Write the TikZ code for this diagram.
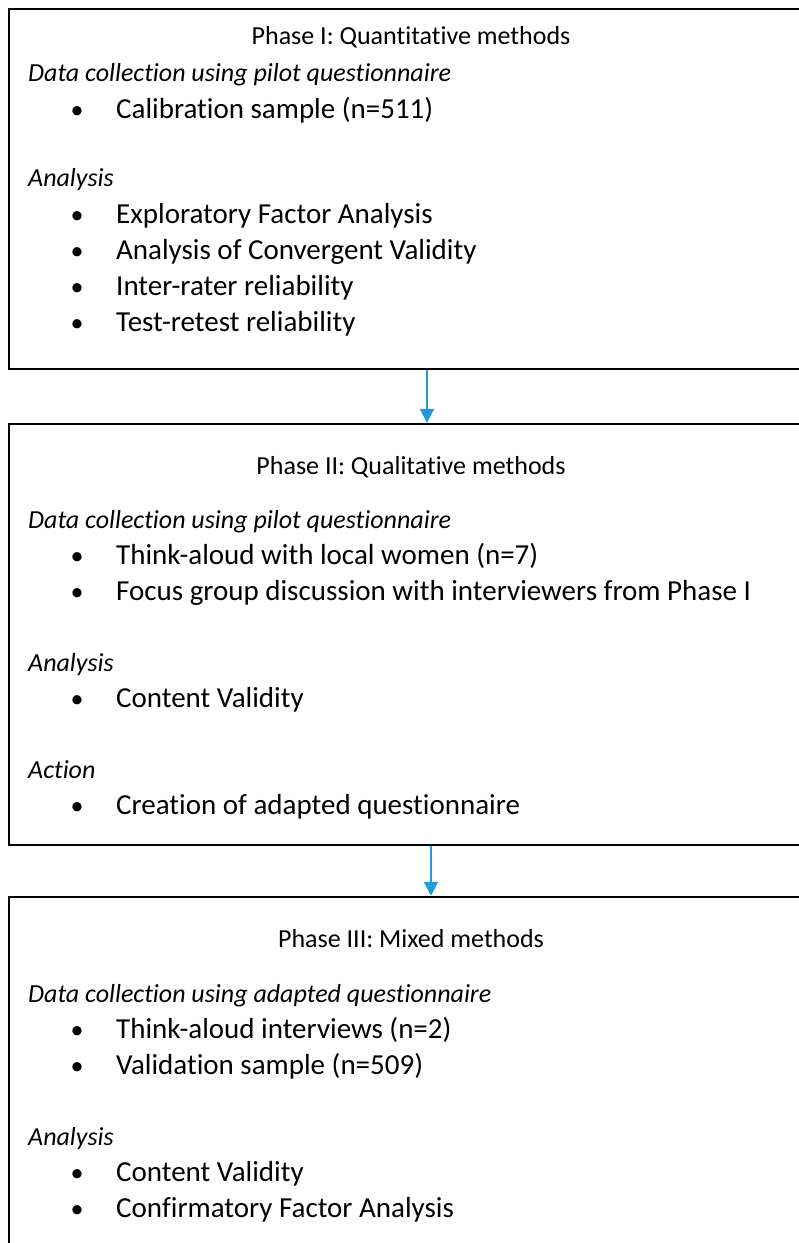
\documentclass[tikz,border=0pt]{standalone}
\usepackage{fontspec}
\setmainfont{Carlito}[Renderer=OpenType, Ligatures={NoCommon,NoRare}]
\usepackage{tikz}
\usetikzlibrary{arrows.meta}
\definecolor{flowBlue}{HTML}{1F9BD7}

\begin{document}
\begin{tikzpicture}[x=1pt, y=-1pt,
    phasebox/.style={draw, line width=2.5pt, rectangle, inner sep=0pt, minimum width=841pt},
    phasetitle/.style={anchor=base, inner sep=0pt, font=\fontsize{26}{30}\selectfont},
    subhead/.style={anchor=base west, inner sep=0pt, font=\fontsize{26}{30}\selectfont\itshape},
    itemtext/.style={anchor=base west, inner sep=0pt, font=\fontsize{29}{34}\selectfont},
    bulletdot/.style={anchor=base, inner sep=0pt, font=\fontsize{26}{30}\selectfont},
    flowarrow/.style={-{Triangle[length=14pt, width=14pt]}, flowBlue, line width=2.2pt}]
    \useasboundingbox (0,0) rectangle (799,1243);
    \begin{scope}
    \clip (0,0) rectangle (799,1243);
    % the three phase boxes
    \node[phasebox, minimum height=360pt] (phase1) at (429.5,189) {};
    \node[phasebox, minimum height=421pt] (phase2) at (429.5,634.5) {};
    \node[phasebox, minimum height=373pt] (phase3) at (429.5,1083.5) {};
    \end{scope}

    % Phase I
    \node[phasetitle] (title1) at (411,44) {Phase I: Quantitative methods};
    \node[subhead] (data1) at (28,81) {Data collection using pilot questionnaire};
    \node[bulletdot] (dot1a) at (77,118) {\textbullet};
    \node[itemtext] (item1a) at (116,118) {Calibration sample (n=511)};
    \node[subhead] (ana1) at (28,186) {Analysis};
    \node[bulletdot] (dot1b) at (77,223) {\textbullet};
    \node[itemtext] (item1b) at (116,223) {Exploratory Factor Analysis};
    \node[bulletdot] (dot1c) at (77,259) {\textbullet};
    \node[itemtext] (item1c) at (116,259) {Analysis of Convergent Validity};
    \node[bulletdot] (dot1d) at (77,295) {\textbullet};
    \node[itemtext] (item1d) at (116,295) {Inter-rater reliability};
    \node[bulletdot] (dot1e) at (77,331) {\textbullet};
    \node[itemtext] (item1e) at (116,331) {Test-retest reliability};

    % Phase II
    \node[phasetitle] (title2) at (411,474) {Phase II: Qualitative methods};
    \node[subhead] (data2) at (28,528) {Data collection using pilot questionnaire};
    \node[bulletdot] (dot2a) at (77,564) {\textbullet};
    \node[itemtext] (item2a) at (116,564) {Think-aloud with local women (n=7)};
    \node[bulletdot] (dot2b) at (77,600) {\textbullet};
    \node[itemtext] (item2b) at (116,600) {Focus group discussion with interviewers from Phase I};
    \node[subhead] (ana2) at (28,671) {Analysis};
    \node[bulletdot] (dot2c) at (77,707) {\textbullet};
    \node[itemtext] (item2c) at (116,707) {Content Validity};
    \node[subhead] (act2) at (28,778) {Action};
    \node[bulletdot] (dot2d) at (77,814) {\textbullet};
    \node[itemtext] (item2d) at (116,814) {Creation of adapted questionnaire};

    % Phase III
    \node[phasetitle] (title3) at (411,947) {Phase III: Mixed methods};
    \node[subhead] (data3) at (28,1002) {Data collection using adapted questionnaire};
    \node[bulletdot] (dot3a) at (77,1038) {\textbullet};
    \node[itemtext] (item3a) at (116,1038) {Think-aloud interviews (n=2)};
    \node[bulletdot] (dot3b) at (77,1074) {\textbullet};
    \node[itemtext] (item3b) at (116,1074) {Validation sample (n=509)};
    \node[subhead] (ana3) at (28,1145) {Analysis};
    \node[bulletdot] (dot3c) at (77,1181) {\textbullet};
    \node[itemtext] (item3c) at (116,1181) {Content Validity};
    \node[bulletdot] (dot3d) at (77,1217) {\textbullet};
    \node[itemtext] (item3d) at (116,1217) {Confirmatory Factor Analysis};

    \draw[flowarrow] ([xshift=-2.5pt]phase1.south) -- ([xshift=-2.5pt]phase2.north);
    \draw[flowarrow] ([xshift=1.5pt]phase2.south) -- ([xshift=1.5pt]phase3.north);
\end{tikzpicture}
\end{document}
